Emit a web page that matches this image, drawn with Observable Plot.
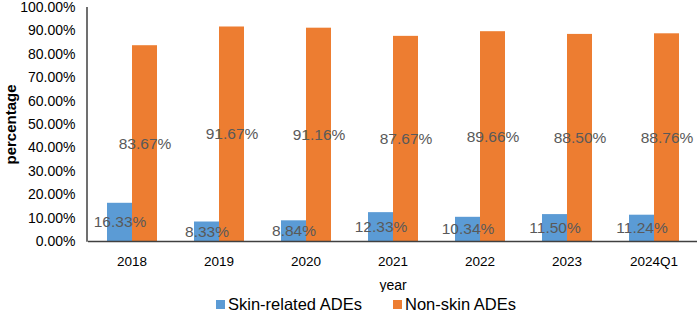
<!DOCTYPE html>
<html>
<head>
<meta charset="utf-8">
<script src="https://cdn.jsdelivr.net/npm/d3@7"></script>
<script src="https://cdn.jsdelivr.net/npm/@observablehq/plot@0.6"></script>
<style>
  body { margin: 0; background: #fff; font-family: "Liberation Sans", Arial, sans-serif; }
  #chart { width: 699px; position: relative; }
  #legend { position: relative; height: 21px; font-size: 16.5px; color: #000; }
  .item { position: absolute; top: 2px; display: flex; align-items: center; height: 21px; }
  .sw { width: 9px; height: 9px; margin-right: 3px; }
</style>
</head>
<body>
<div id="chart"></div>
<div id="legend">
  <div class="item" style="left:216px"><span class="sw" style="background:#5B9BD5"></span>Skin-related ADEs</div>
  <div class="item" style="left:393px"><span class="sw" style="background:#ED7D31"></span>Non-skin ADEs</div>
</div>
<script>
const years = ["2018", "2019", "2020", "2021", "2022", "2023", "2024Q1"];
const seriesNames = ["Skin-related ADEs", "Non-skin ADEs"];
const skinValues = [16.33, 8.33, 8.84, 12.33, 10.34, 11.50, 11.24];
const nonSkinValues = [83.67, 91.67, 91.16, 87.67, 89.66, 88.50, 88.76];
const yTicks = [0, 10, 20, 30, 40, 50, 60, 70, 80, 90, 100];
const colors = ["#5B9BD5", "#ED7D31"];

const data = [];
years.forEach((y, i) => {
  data.push({year: y, series: seriesNames[0], value: skinValues[i]});
  data.push({year: y, series: seriesNames[1], value: nonSkinValues[i]});
});

const fmt = v => v.toFixed(2) + "%";

const plot = Plot.plot({
  width: 699,
  height: 292,
  marginTop: 7,
  marginBottom: 51,
  marginLeft: 87,
  marginRight: 2,
  style: {fontFamily: "'Liberation Sans', Arial, sans-serif", fontSize: "13px", color: "#000"},
  fx: {domain: years, padding: 0},
  x: {domain: seriesNames, paddingInner: 0, paddingOuter: 0.74, axis: null},
  y: {domain: [0, 100]},
  color: {domain: seriesNames, range: colors},
  marks: [
    Plot.axisY({ticks: yTicks, tickFormat: fmt, tickSize: 0, tickPadding: 13, fontSize: 14,
      label: "percentage", labelAnchor: "center", labelArrow: "none", labelOffset: 83}),
    Plot.axisFx({anchor: "bottom", tickSize: 0, tickPadding: 15, fontSize: 13.5,
      label: "year", labelAnchor: "center", labelArrow: "none", labelOffset: 48}),
    Plot.barY(data, {fx: "year", x: "series", y: "value", fill: "series"}),
    Plot.ruleY([0], {stroke: "#404040", strokeWidth: 1.5}),
    Plot.text(data, {fx: "year", x: "series", y: d => d.value / 2, text: d => fmt(d.value),
      fill: "#595959", fontSize: 15.5})
  ]
});

document.getElementById("chart").appendChild(plot);

// left axis line, drawn from the y scale
const ys = plot.scale("y");
d3.select(plot).append("line")
  .attr("x1", 87).attr("x2", 87)
  .attr("y1", ys.apply(100)).attr("y2", ys.apply(0) + 0.75)
  .attr("stroke", "#404040").attr("stroke-width", 1.5);

d3.select(plot).selectAll('[aria-label="y-axis label"] text, [aria-label="y-axis label"]')
  .attr("font-weight", "bold").attr("font-size", 15);
d3.select(plot).selectAll('[aria-label="fx-axis label"] text, [aria-label="fx-axis label"]')
  .attr("font-size", 14).attr("font-weight", "normal");
</script>
</body>
</html>
